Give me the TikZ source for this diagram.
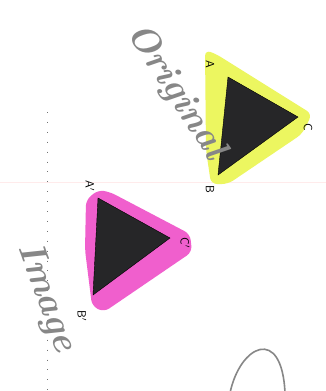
\documentclass[tikz,border=0pt]{standalone}
\usepackage{fontspec}
\definecolor{hlyellow}{RGB}{236,246,96}
\definecolor{hlpink}{RGB}{240,95,205}
\definecolor{darkfill}{RGB}{38,38,40}
\definecolor{pencil}{RGB}{135,135,135}
\tikzset{
  vlabel/.style={font=\sffamily\large, rotate=-90, inner sep=0pt},
  handw/.style={text=pencil, font=\bfseries\itshape\fontsize{37}{37}\selectfont, inner sep=0pt},
  hl/.style={rounded corners=6pt, draw=none},
  tri/.style={fill=darkfill, draw=black, line width=0.4pt}
}
\begin{document}
\begin{tikzpicture}[x=1pt,y=-1pt]
\useasboundingbox (0,0) rectangle (326,391);
\fill[white] (0,0) rectangle (326,391);
% faint guide line
\draw[red!8, line width=0.6pt] (0,182) -- (326,182);
% dotted line on the left
\draw[black!55, line width=0.9pt, dash pattern=on 0.9pt off 9pt] (47,112) -- (47,391);
% original triangle with yellow highlight
\fill[hlyellow, hl] (205,50) -- (216,54) -- (312,114) -- (302,134) -- (228,184) -- (211,184) -- (206,150) -- cycle;
\draw[tri] (228,77) coordinate (ya) -- (298,117) coordinate (yc) -- (218,175) coordinate (yb) -- cycle;
\node[vlabel] (A) at (210,64) {A};
\node[vlabel] (C) at (308,127) {C};
\node[vlabel] (B) at (210,189) {B};
% image triangle with pink highlight
\fill[hlpink, hl] (86,200) -- (98,190) -- (110,192) -- (190,234) -- (192,252) -- (104,312) -- (92,306) -- (85,250) -- cycle;
\draw[tri] (98,198) coordinate (pa) -- (170,238) coordinate (pc) -- (93,295) coordinate (pb) -- cycle;
\node[vlabel] (Ap) at (90,186) {A$'$};
\node[vlabel] (Cp) at (185,243) {C$'$};
\node[vlabel] (Bp) at (82,316) {B$'$};
% handwritten words
\node[handw, rotate=-57] (orig) at (176,92) {Original};
\node[handw, rotate=-70] (img) at (46,298) {Image};
% arch at the bottom
\draw[pencil, line width=1.6pt] (230,393) .. controls (240,345) and (282,325) .. (285,393);
\end{tikzpicture}
\end{document}
